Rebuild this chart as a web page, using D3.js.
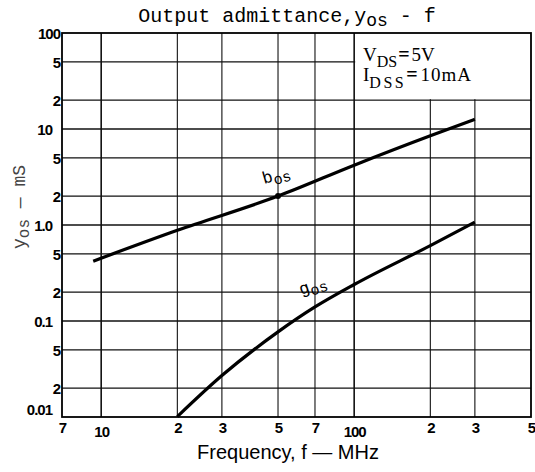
<!DOCTYPE html>
<html>
<head>
<meta charset="utf-8">
<script src="https://cdn.jsdelivr.net/npm/d3@7"></script>
<style>
  body { margin: 0; background: #fff; }
  svg { display: block; }
</style>
</head>
<body>
<div id="chart"></div>
<script>
// b_os and g_os (MHz, mS)
var bosFreq = [9.3, 20, 50, 100, 200, 300];
var bosVal = [0.42, 0.88, 2.0, 4.2, 8.5, 12.6];
var gosFreq = [20, 30, 50, 70, 100, 200, 300];
var gosVal = [0.0101, 0.027, 0.077, 0.14, 0.24, 0.61, 1.07];

var xTicks = [7, 10, 20, 30, 50, 70, 100, 200, 300, 500];
var xLabels = ["7", "10", "2", "3", "5", "7", "100", "2", "3", "5"];
var yTicks = [100, 50, 20, 10, 5, 2, 1, 0.5, 0.2, 0.1, 0.05, 0.02, 0.01];
var yLabels = ["100", "5", "2", "10", "5", "2", "1.0", "5", "2", "0.1", "5", "2", "0.01"];
var xGrid = [10, 20, 30, 50, 70, 100, 200, 300];
var yGrid = [0.02, 0.05, 0.1, 0.2, 0.5, 1, 2, 5, 10, 20, 50];

var svgWidth = 535, svgHeight = 472;
var margin = {top: 33, right: 4, bottom: 55, left: 62};
var width = svgWidth - margin.left - margin.right;
var height = svgHeight - margin.top - margin.bottom;

var svg = d3.select("#chart").append("svg")
  .attr("width", svgWidth)
  .attr("height", svgHeight);

var chartGroup = svg.append("g")
  .attr("transform", `translate(${margin.left}, ${margin.top})`);

var xScale = d3.scaleLog().domain([7, 500]).range([0, width]);
var yScale = d3.scaleLog().domain([0.01, 100]).range([height, 0]);

function isDecade(v) {
  var l = Math.log10(v);
  return Math.abs(l - Math.round(l)) < 1e-9;
}

// grid
var grid = chartGroup.append("g");
grid.selectAll(".vg").data(xGrid).enter().append("line")
  .attr("x1", d => xScale(d)).attr("x2", d => xScale(d))
  .attr("y1", 0).attr("y2", height)
  .attr("stroke", "#111")
  .attr("stroke-width", d => isDecade(d) ? 1.6 : 1.1);
grid.selectAll(".hg").data(yGrid).enter().append("line")
  .attr("x1", 0).attr("x2", width)
  .attr("y1", d => yScale(d)).attr("y2", d => yScale(d))
  .attr("stroke", "#111")
  .attr("stroke-width", d => isDecade(d) ? 1.6 : 1.1);

// condition box (covers grid top right)
chartGroup.append("rect")
  .attr("x", xScale(100) + 1)
  .attr("y", 0)
  .attr("width", width - xScale(100) - 1)
  .attr("height", yScale(20) - 1)
  .attr("fill", "#fff");

// frame
chartGroup.append("rect")
  .attr("width", width).attr("height", height)
  .attr("fill", "none")
  .attr("stroke", "#000")
  .attr("stroke-width", 1.8);

// axes (labels only)
var xAxis = d3.axisBottom(xScale)
  .tickValues(xTicks)
  .tickSize(0)
  .tickPadding(5)
  .tickFormat((d, i) => xLabels[i]);
var gx = chartGroup.append("g")
  .attr("transform", `translate(0, ${height})`)
  .call(xAxis);
gx.select(".domain").remove();
gx.selectAll("text")
  .attr("fill", "#000")
  .style("font-family", "Liberation Sans, Arial, sans-serif")
  .style("font-weight", "bold")
  .style("font-size", "15px")
  .style("letter-spacing", "-1px")
  .attr("dy", d => (d == 10 || d == 100) ? "1.0em" : "0.72em");

var yAxis = d3.axisLeft(yScale)
  .tickValues(yTicks)
  .tickSize(0)
  .tickPadding(3)
  .tickFormat((d, i) => yLabels[i]);
var gy = chartGroup.append("g").call(yAxis);
gy.select(".domain").remove();
gy.selectAll("text")
  .attr("fill", "#000")
  .style("font-family", "Liberation Sans, Arial, sans-serif")
  .style("font-weight", "bold")
  .style("font-size", "15px")
  .style("letter-spacing", "-1px")
  .attr("x", d => isDecade(d) && d != 100 ? -10 : -2)
  .attr("dy", d => d == 0.01 ? "-0.2em" : "0.35em");

// curves
var line = d3.line()
  .x(d => xScale(d[0]))
  .y(d => yScale(d[1]))
  .curve(d3.curveMonotoneX);

var bosData = d3.zip(bosFreq, bosVal);
var gosData = d3.zip(gosFreq, gosVal);

chartGroup.append("path")
  .datum(bosData)
  .attr("d", line)
  .attr("fill", "none")
  .attr("stroke", "#000")
  .attr("stroke-width", 3.2);

chartGroup.append("path")
  .datum(gosData)
  .attr("d", line)
  .attr("fill", "none")
  .attr("stroke", "#000")
  .attr("stroke-width", 3.2);

chartGroup.append("circle")
  .attr("cx", xScale(50))
  .attr("cy", yScale(2.0))
  .attr("r", 3)
  .attr("fill", "#000");

// curve labels
var curveFont = "Liberation Mono, DejaVu Sans Mono, monospace";
function subLabel(x, y, rot, main, sub) {
  var t = chartGroup.append("text")
    .attr("transform", `translate(${x}, ${y}) rotate(${rot})`)
    .style("font-family", curveFont)
    .style("font-size", "17px")
    .attr("fill", "#000");
  t.append("tspan").text(main);
  t.append("tspan").attr("dy", 4).style("font-size", "15px").text(sub);
}
subLabel(264 - margin.left, 184 - margin.top, -16, "b", "os");
subLabel(301 - margin.left, 295 - margin.top, -18, "g", "os");

// condition text, both lines in one text element
var condFont = "Liberation Serif, DejaVu Serif, serif";
var condX = 363 - margin.left;
var cond = chartGroup.append("text")
  .attr("x", condX).attr("y", 61 - margin.top)
  .style("font-family", condFont).style("font-size", "19px").attr("fill", "#000");
cond.append("tspan").text("V");
cond.append("tspan").attr("dy", 6).style("font-size", "16px").text("DS");
cond.append("tspan").attr("dy", -6).attr("dx", 1).style("font-size", "20px").style("font-weight", "bold").text("=");
cond.append("tspan").attr("dx", 2).text("5V");
cond.append("tspan").attr("x", condX).attr("dy", 20).text("I");
cond.append("tspan").attr("dy", 7).style("font-size", "16px").style("letter-spacing", "2.5px").text("DSS");
cond.append("tspan").attr("dy", -7).attr("dx", 0).style("font-size", "20px").style("font-weight", "bold").text("=");
cond.append("tspan").attr("dx", 3).style("letter-spacing", "1px").text("10mA");

// title
var title = svg.append("text")
  .attr("x", 287).attr("y", 22)
  .attr("text-anchor", "middle")
  .style("font-family", "Liberation Mono, DejaVu Sans Mono, monospace")
  .style("font-size", "20px")
  .attr("fill", "#000");
title.append("tspan").text("Output admittance,y");
title.append("tspan").attr("dy", 4).style("font-size", "18px").text("os");
title.append("tspan").attr("dy", -4).text(" - f");

// x axis title
svg.append("text")
  .attr("x", 288).attr("y", 459)
  .attr("text-anchor", "middle")
  .style("font-family", "Liberation Sans, Arial, sans-serif")
  .style("font-size", "20px")
  .attr("fill", "#000")
  .text("Frequency, f \u2014 MHz");

// y axis title
var yt = svg.append("text")
  .attr("transform", "translate(25, 207) rotate(-90)")
  .attr("text-anchor", "middle")
  .style("font-family", "Liberation Mono, DejaVu Sans Mono, monospace")
  .style("font-size", "18px")
  .attr("fill", "#444");
yt.append("tspan").text("y");
yt.append("tspan").attr("dy", 4).style("font-size", "16px").text("os");
yt.append("tspan").attr("dy", -4).text(" \u2014 mS");
</script>
</body>
</html>
